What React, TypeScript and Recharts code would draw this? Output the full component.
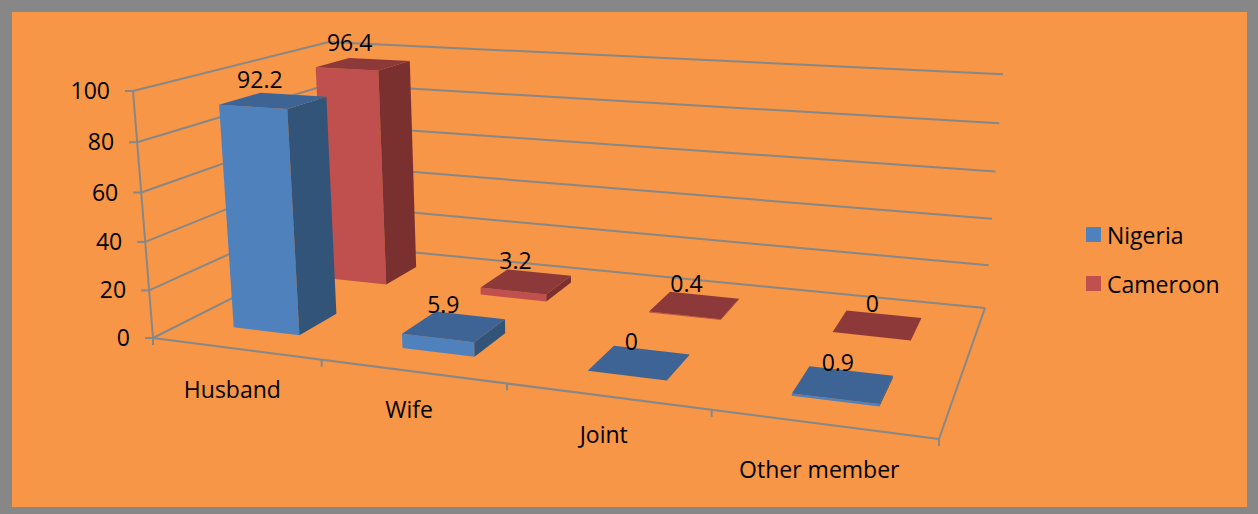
import React from 'react';
import { BarChart, Bar, XAxis, YAxis, CartesianGrid, Legend, LabelList } from 'recharts';

const categories = ['Husband', 'Wife', 'Joint', 'Other member'];
const nigeria = [92.2, 5.9, 0, 0.9];
const cameroon = [96.4, 3.2, 0.4, 0];
const valueTicks = [0, 20, 40, 60, 80, 100];
const legendOrder = ['Nigeria', 'Cameroon'];

const rows = categories.map((name, i) => ({ name, Nigeria: nigeria[i], Cameroon: cameroon[i] }));

const WIDTH = 1258;
const HEIGHT = 514;
const PLOT = { left: 100, top: 50, width: 800, height: 400 };
const FONT = '"Open Sans", sans-serif';
const TEXT_SIZE = 23;
const LINE = '#878787';
const LINE_W = 2;

const FACES = {
  Nigeria: { front: '#4F81BD', side: '#335479', top: '#3D6494' },
  Cameroon: { front: '#C0504D', side: '#7B3030', top: '#8E3939' },
};

// Camera: the floor plane is a homography of its four corners, height adds one extra column.
const floor = [[153, 338], [939, 439], [985, 308], [338, 245]];
const wallFrontTop = [133, 91];
const wallBackTop = [1003, 71];
const BACK_WALL_DROP = 3;

function buildCamera() {
  const [[x0, y0], [x1, y1], [x2, y2], [x3, y3]] = floor;
  const dx1 = x1 - x2, dy1 = y1 - y2, dx2 = x3 - x2, dy2 = y3 - y2;
  const sx = x0 - x1 + x2 - x3, sy = y0 - y1 + y2 - y3;
  const det = dx1 * dy2 - dx2 * dy1;
  const g = (sx * dy2 - dx2 * sy) / det;
  const h = (dx1 * sy - sx * dy1) / det;
  const a = x1 - x0 + g * x1, b = x3 - x0 + h * x3, c = x0;
  const d = y1 - y0 + g * y1, e = y3 - y0 + h * y3, f = y0;
  const r = (a + b + wallFrontTop[0] - wallBackTop[0] * (g + h + 1)) / (wallBackTop[0] - wallFrontTop[0]);
  const p = wallFrontTop[0] * (1 + r) - c;
  const q = wallFrontTop[1] * (1 + r) - f;
  return { a, b, c, d, e, f, g, h, p, q, r };
}
const cam = buildCamera();

// u: along the categories, v: height, w: depth into the scene (all 0..1).
function project(u: number, v: number, w: number): [number, number] {
  const k = cam.g * u + cam.h * w + cam.r * v + 1;
  return [
    (cam.a * u + cam.b * w + cam.p * v + cam.c) / k,
    (cam.d * u + cam.e * w + cam.q * v + cam.f) / k,
  ];
}
const toU = (x: number) => (x - PLOT.left) / PLOT.width;
const toV = (y: number) => (PLOT.top + PLOT.height - y) / PLOT.height;
const pts = (list: [number, number][]) => list.map((q) => q.join(',')).join(' ');

const DEPTH_CENTER = { Nigeria: 0.25, Cameroon: 0.75 };
const DEPTH_HALF = 0.1;

function Box({ x, y, width, height, series }: any) {
  const f = FACES[series];
  const u0 = toU(x), u1 = toU(x + width);
  const vTop = toV(y), vBase = toV(y + height);
  const w0 = DEPTH_CENTER[series] - DEPTH_HALF, w1 = DEPTH_CENTER[series] + DEPTH_HALF;
  return (
    <g>
      <polygon fill={f.front} points={pts([project(u0, vBase, w0), project(u1, vBase, w0), project(u1, vTop, w0), project(u0, vTop, w0)])} />
      <polygon fill={f.side} points={pts([project(u1, vBase, w0), project(u1, vBase, w1), project(u1, vTop, w1), project(u1, vTop, w0)])} />
      <polygon fill={f.top} points={pts([project(u0, vTop, w0), project(u1, vTop, w0), project(u1, vTop, w1), project(u0, vTop, w1)])} />
    </g>
  );
}

function BoxLabel({ x, y, width, value, series }: any) {
  const u = toU(x + width / 2);
  const [px, py] = project(u, toV(y), DEPTH_CENTER[series]);
  return (
    <text x={px - 15 + 11 * u} y={py - 21 + 8} textAnchor="middle" fontFamily={FONT} fontSize={TEXT_SIZE} fill="#000">
      {value}
    </text>
  );
}

function seg(a: [number, number], b: [number, number]) {
  return <line x1={a[0]} y1={a[1]} x2={b[0]} y2={b[1]} stroke={LINE} strokeWidth={LINE_W} />;
}

// Every gridline runs along the side wall and then along the back wall; the base line also outlines the floor.
function WallLine(props: any) {
  const v = toV(props.y1);
  const isBase = Math.abs(v) < 1e-6;
  const end = project(1, v, 1);
  const backEnd: [number, number] = [end[0], end[1] + (isBase ? 0 : BACK_WALL_DROP)];
  return (
    <g key={props.key}>
      <polyline fill="none" stroke={LINE} strokeWidth={LINE_W} points={pts([project(0, v, 0), project(0, v, 1), backEnd])} />
      {isBase && seg(project(0, 0, 0), project(1, 0, 0))}
      {isBase && seg(project(1, 0, 0), project(1, 0, 1))}
      {isBase && seg(project(0, 0, 0), project(0, 1, 0))}
    </g>
  );
}

function ValueTick({ y, payload }: any) {
  const [px, py] = project(0, toV(y), 0);
  return (
    <g>
      <line x1={px - 8} y1={py} x2={px} y2={py} stroke={LINE} strokeWidth={LINE_W} />
      <text x={px - 23} y={py + 8} textAnchor="end" fontFamily={FONT} fontSize={TEXT_SIZE} fill="#000">
        {payload.value}
      </text>
    </g>
  );
}

const LABEL_DROP = [41, 39, 39, 46];

function CategoryTick({ x, payload, index }: any) {
  const u = toU(x);
  const half = 0.5 / categories.length;
  const [lx, ly] = project(u, 0, 0);
  const mark = (t: number) => {
    const q = project(t, 0, 0);
    return <line x1={q[0]} y1={q[1]} x2={q[0]} y2={q[1] + 7} stroke={LINE} strokeWidth={LINE_W} />;
  };
  return (
    <g>
      {mark(u - half)}
      {index === categories.length - 1 && mark(u + half)}
      <text x={lx - 3} y={ly + LABEL_DROP[index] + 8} textAnchor="middle" fontFamily={FONT} fontSize={TEXT_SIZE} fill="#000">
        {payload.value}
      </text>
    </g>
  );
}

function LegendBlock({ payload }: any) {
  const items = [...(payload || [])].sort((a, b) => legendOrder.indexOf(a.value) - legendOrder.indexOf(b.value));
  return (
    <div style={{ fontFamily: FONT, fontSize: TEXT_SIZE, color: '#000' }}>
      {items.map((it) => (
        <div key={it.value} style={{ display: 'flex', alignItems: 'center', height: 49 }}>
          <span style={{ width: 15, height: 15, background: it.color, marginRight: 6, display: 'inline-block' }} />
          <span>{it.value}</span>
        </div>
      ))}
    </div>
  );
}

export default function App() {
  const barWidth = (PLOT.width / categories.length) * 0.4;
  return (
    <div style={{ position: 'absolute', left: 0, top: 0, width: WIDTH, height: HEIGHT, background: '#878787', overflow: 'hidden' }}>
      <div style={{ position: 'absolute', left: 12, top: 12, width: 1235, height: 495, background: '#F79646' }} />
      <div style={{ position: 'absolute', left: 0, top: 0 }}>
        <BarChart
          width={WIDTH}
          height={HEIGHT}
          data={rows}
          barSize={barWidth}
          barGap={-barWidth}
          margin={{
            left: PLOT.left - 1,
            top: PLOT.top,
            right: WIDTH - PLOT.left - PLOT.width,
            bottom: HEIGHT - PLOT.top - PLOT.height - 1,
          }}
        >
          <CartesianGrid vertical={false} horizontal={WallLine} />
          <XAxis dataKey="name" height={1} axisLine={false} tickLine={false} interval={0} tick={CategoryTick} />
          <YAxis width={1} domain={[0, 100]} ticks={valueTicks} axisLine={false} tickLine={false} tick={ValueTick} />
          <Bar dataKey="Cameroon" name="Cameroon" fill={FACES.Cameroon.front} isAnimationActive={false}
            shape={(p: any) => <Box {...p} series="Cameroon" />}>
            <LabelList dataKey="Cameroon" content={(p: any) => <BoxLabel {...p} series="Cameroon" />} />
          </Bar>
          <Bar dataKey="Nigeria" name="Nigeria" fill={FACES.Nigeria.front} isAnimationActive={false}
            shape={(p: any) => <Box {...p} series="Nigeria" />}>
            <LabelList dataKey="Nigeria" content={(p: any) => <BoxLabel {...p} series="Nigeria" />} />
          </Bar>
          <Legend
            layout="vertical"
            align="center"
            verticalAlign="middle"
            content={LegendBlock}
            wrapperStyle={{ position: 'absolute', left: 1086, top: 210, width: 160, height: 98 }}
          />
        </BarChart>
      </div>
    </div>
  );
}
